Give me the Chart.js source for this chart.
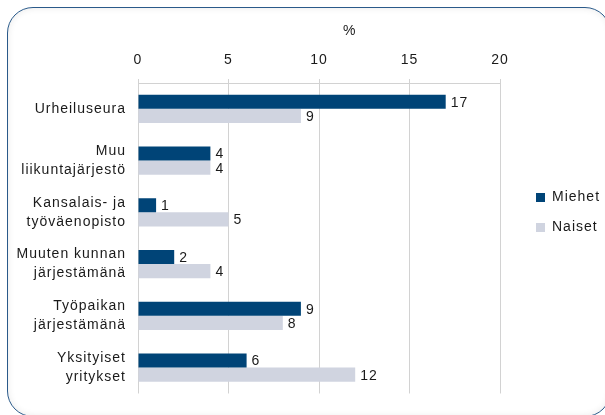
<!DOCTYPE html>
<html lang="fi">
<head>
<meta charset="utf-8">
<script src="https://cdn.jsdelivr.net/npm/chart.js@4.4.1/dist/chart.umd.min.js"></script>
<style>
  html, body { margin: 0; padding: 0; background: #fff; overflow: hidden; }
  #wrap { position: relative; width: 605px; height: 415px; }
  #frame {
    position: absolute; left: 7px; top: 7px; width: 604px; height: 410px;
    box-sizing: border-box; border: 1.5px solid #2a5a8a; border-radius: 26px;
    box-shadow: inset 0 0 7px rgba(0, 0, 0, 0.09);
  }
  #myChart { position: absolute; left: 0; top: 0; }
</style>
</head>
<body>
<div id="wrap">
  <div id="frame"></div>
  <canvas id="myChart" width="605" height="415"></canvas>
</div>
<script>
// Harrastuspaikat, % vastaajista
const categories = [
  'Urheiluseura',
  ['Muu', 'liikuntajärjestö'],
  ['Kansalais- ja', 'työväenopisto'],
  ['Muuten kunnan', 'järjestämänä'],
  ['Työpaikan', 'järjestämänä'],
  ['Yksityiset', 'yritykset']
];
const seriesNames = ['Miehet', 'Naiset'];
const menValues = [17, 4, 1, 2, 9, 6];
const womenValues = [9, 4, 5, 4, 8, 12];
const xTicks = [0, 5, 10, 15, 20];
const axisTitle = '%';

const seriesColors = ['#004477', '#d0d4e0'];
const textColor = '#1a1a1a';
const gridColor = '#d2d2d2';

Chart.defaults.font.family = '"Liberation Sans", Arial, sans-serif';
Chart.defaults.font.size = 14;
Chart.defaults.color = textColor;

// slightly spaced lettering, set before layout measures text
const tracking = {
  id: 'tracking',
  beforeUpdate(chart) { chart.ctx.letterSpacing = '1px'; },
  beforeLayout(chart) { chart.ctx.letterSpacing = '1px'; },
  beforeDraw(chart) { chart.ctx.letterSpacing = '1px'; }
};

// numbers at the end of each bar
const valueLabels = {
  id: 'valueLabels',
  afterDatasetsDraw(chart) {
    const ctx = chart.ctx;
    ctx.save();
    ctx.font = '14px "Liberation Sans", Arial, sans-serif';
    ctx.fillStyle = textColor;
    ctx.textAlign = 'left';
    ctx.textBaseline = 'middle';
    chart.data.datasets.forEach((ds, i) => {
      chart.getDatasetMeta(i).data.forEach((bar, j) => {
        ctx.fillText(String(ds.data[j]), bar.x + 5, bar.y + 1);
      });
    });
    ctx.restore();
  }
};

// unit label above the tick row
const unitLabel = {
  id: 'unitLabel',
  afterDraw(chart) {
    const ctx = chart.ctx;
    const area = chart.chartArea;
    ctx.save();
    ctx.font = '14px "Liberation Sans", Arial, sans-serif';
    ctx.fillStyle = textColor;
    ctx.textAlign = 'center';
    ctx.textBaseline = 'middle';
    ctx.fillText(axisTitle, area.left + area.width * 0.585, 31);
    ctx.restore();
  }
};

const ctx = document.getElementById('myChart').getContext('2d');

new Chart(ctx, {
  type: 'bar',
  data: {
    labels: categories,
    datasets: [
      {
        label: seriesNames[0],
        data: menValues,
        backgroundColor: seriesColors[0],
        borderWidth: 0,
        categoryPercentage: 0.55,
        barPercentage: 1.0
      },
      {
        label: seriesNames[1],
        data: womenValues,
        backgroundColor: seriesColors[1],
        borderWidth: 0,
        categoryPercentage: 0.55,
        barPercentage: 1.0
      }
    ]
  },
  options: {
    indexAxis: 'y',
    responsive: false,
    animation: false,
    layout: {
      padding: { top: 26, bottom: 16, left: 0, right: 1 }
    },
    scales: {
      x: {
        position: 'top',
        min: xTicks[0],
        max: xTicks[xTicks.length - 1],
        afterBuildTicks(scale) {
          scale.ticks = xTicks.map(v => ({ value: v }));
        },
        afterFit(scale) { scale.height = 57; },
        ticks: { padding: 10, color: textColor },
        grid: { color: gridColor, lineWidth: 1, tickLength: 4, drawTicks: true },
        border: { color: gridColor, width: 1 }
      },
      y: {
        afterFit(scale) { scale.width = 138; },
        grid: { display: false, drawTicks: false },
        border: { display: false },
        ticks: {
          padding: 12,
          color: textColor,
          font: { size: 14, lineHeight: 1.36 }
        }
      },
      // empty strip between the plot and the legend
      gap: {
        type: 'linear',
        axis: 'y',
        position: 'right',
        grid: { display: false },
        border: { display: false },
        ticks: { display: false },
        afterFit(scale) { scale.width = 20; }
      }
    },
    plugins: {
      legend: {
        position: 'right',
        maxWidth: 84,
        labels: {
          boxWidth: 9,
          boxHeight: 9,
          padding: 16,
          color: textColor,
          font: { size: 14 }
        }
      },
      tooltip: { enabled: false }
    }
  },
  plugins: [tracking, valueLabels, unitLabel]
});
</script>
</body>
</html>
